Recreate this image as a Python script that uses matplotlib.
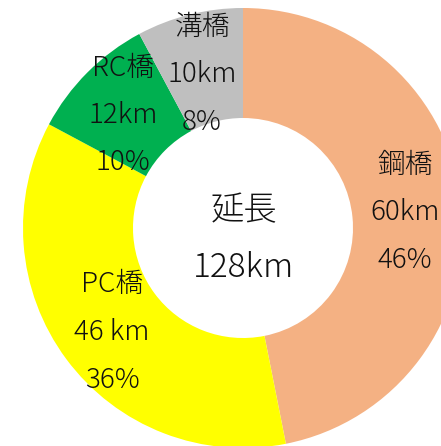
import matplotlib
matplotlib.use("Agg")
import matplotlib.pyplot as plt

plt.rcParams['font.family'] = ['Noto Sans CJK JP', 'DejaVu Sans']

# bridge lengths (km) by type, and the label texts shown on the chart
bridge_types = ["鋼橋", "PC橋", "RC橋", "溝橋"]
lengths_km = [60, 46, 12, 10]
length_labels = ["60km", "46 km", "12km", "10km"]
share_labels = ["46%", "36%", "10%", "8%"]
total_label = ["延長", "128km"]
colors = ["#F4B183", "#FFFF00", "#00B050", "#BFBFBF"]

# label block centres (pixels in the 441x446 image), middle line
label_px = [(405, 212), (112, 332), (123, 115), (202, 74)]
center_px = (244, 239)

W, H = 441, 446
CX, CY, R = 243, 228, 220

fig = plt.figure(figsize=(W / 100, H / 100), dpi=100)
ax = fig.add_axes([(CX - R) / W, (H - CY - R) / H, 2 * R / W, 2 * R / H])
ax.pie(lengths_km, colors=colors, startangle=90, counterclock=False,
       wedgeprops=dict(width=0.5, linewidth=0))
ax.set_xlim(-1, 1)
ax.set_ylim(-1, 1)
ax.axis('off')


def to_data(px, py):
	return (px - CX) / R, (CY - py) / R


step = 47.5
for name, km, pct, (px, py) in zip(bridge_types, length_labels, share_labels, label_px):
	for i, line in enumerate([name, km, pct]):
		x, y = to_data(px, py + (i - 1) * step)
		ax.text(x, y, line, ha='center', va='center', fontsize=20,
				fontweight='light', color='#111111')

for i, line in enumerate(total_label):
	x, y = to_data(center_px[0], center_px[1] + (i - 0.5) * 57)
	ax.text(x, y, line, ha='center', va='center', fontsize=24,
			fontweight='light', color='#111111')

fig.savefig("out.png", dpi=100)
